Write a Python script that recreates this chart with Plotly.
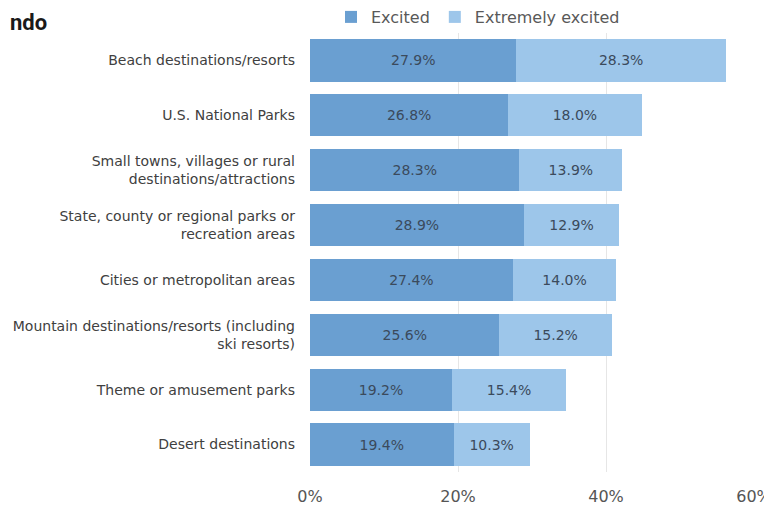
import plotly.graph_objects as go

categories = [
    "Beach destinations/resorts",
    "U.S. National Parks",
    "Small towns, villages or rural<br>destinations/attractions",
    "State, county or regional parks or<br>recreation areas",
    "Cities or metropolitan areas",
    "Mountain destinations/resorts (including<br>ski resorts)",
    "Theme or amusement parks",
    "Desert destinations",
]
excited = [27.9, 26.8, 28.3, 28.9, 27.4, 25.6, 19.2, 19.4]
extremely_excited = [28.3, 18.0, 13.9, 12.9, 14.0, 15.2, 15.4, 10.3]
tick_vals = [0, 20, 40, 60]
tick_text = ["0%", "20%", "40%", "60%"]

FONT = "'DejaVu Sans', sans-serif"
# page body has an 8px margin, so figure is offset by 8px
W, H = 764, 500
ML, MR, MT, MB = 302, 18, 25, 36
PW, PH = W - ML - MR, H - MT - MB

fig = go.Figure()
fig.add_trace(go.Bar(
    y=categories, x=excited, orientation="h", name="Excited",
    marker=dict(color="#6a9fd1", line=dict(width=0)),
    texttemplate="%{x:.1f}%", textposition="inside", insidetextanchor="middle",
    textfont=dict(color="#3b4a5c", size=14, family=FONT),
))
fig.add_trace(go.Bar(
    y=categories, x=extremely_excited, orientation="h", name="Extremely excited",
    marker=dict(color="#9dc6ea", line=dict(width=0)),
    texttemplate="%{x:.1f}%", textposition="inside", insidetextanchor="middle",
    textfont=dict(color="#3b4a5c", size=14, family=FONT),
))

fig.update_layout(
    barmode="stack",
    bargap=0.23,
    width=W, height=H,
    margin=dict(l=ML, r=MR, t=MT, b=MB, autoexpand=False),
    plot_bgcolor="white", paper_bgcolor="white",
    font=dict(family=FONT, color="#404040"),
    showlegend=True,
    legend=dict(orientation="h", x=(323 - ML) / PW, xanchor="left",
                y=1 + (MT + 8) / PH, yanchor="top",
                font=dict(size=16, color="#595959"), traceorder="normal",
                itemwidth=30, bgcolor="rgba(0,0,0,0)"),
    xaxis=dict(range=[0, 60], tickvals=tick_vals, ticktext=tick_text,
               showgrid=True, gridcolor="#e6e6e6", gridwidth=1, zeroline=False,
               showline=False, tickfont=dict(size=16, color="#555555"), ticks="",
               ticklabelstandoff=13),
    yaxis=dict(autorange="reversed", showgrid=False, showline=False, ticks="",
               tickfont=dict(size=14, color="#404040"), ticklabelstandoff=14),
    annotations=[dict(text="<b>ndo</b>", xref="paper", yref="paper",
                      x=-ML / PW, xanchor="left", y=1 + MT / PH, yanchor="top",
                      showarrow=False,
                      font=dict(size=22, color="#1a1a1a", family="Roboto, sans-serif"))],
)

fig.write_html("out.html")
